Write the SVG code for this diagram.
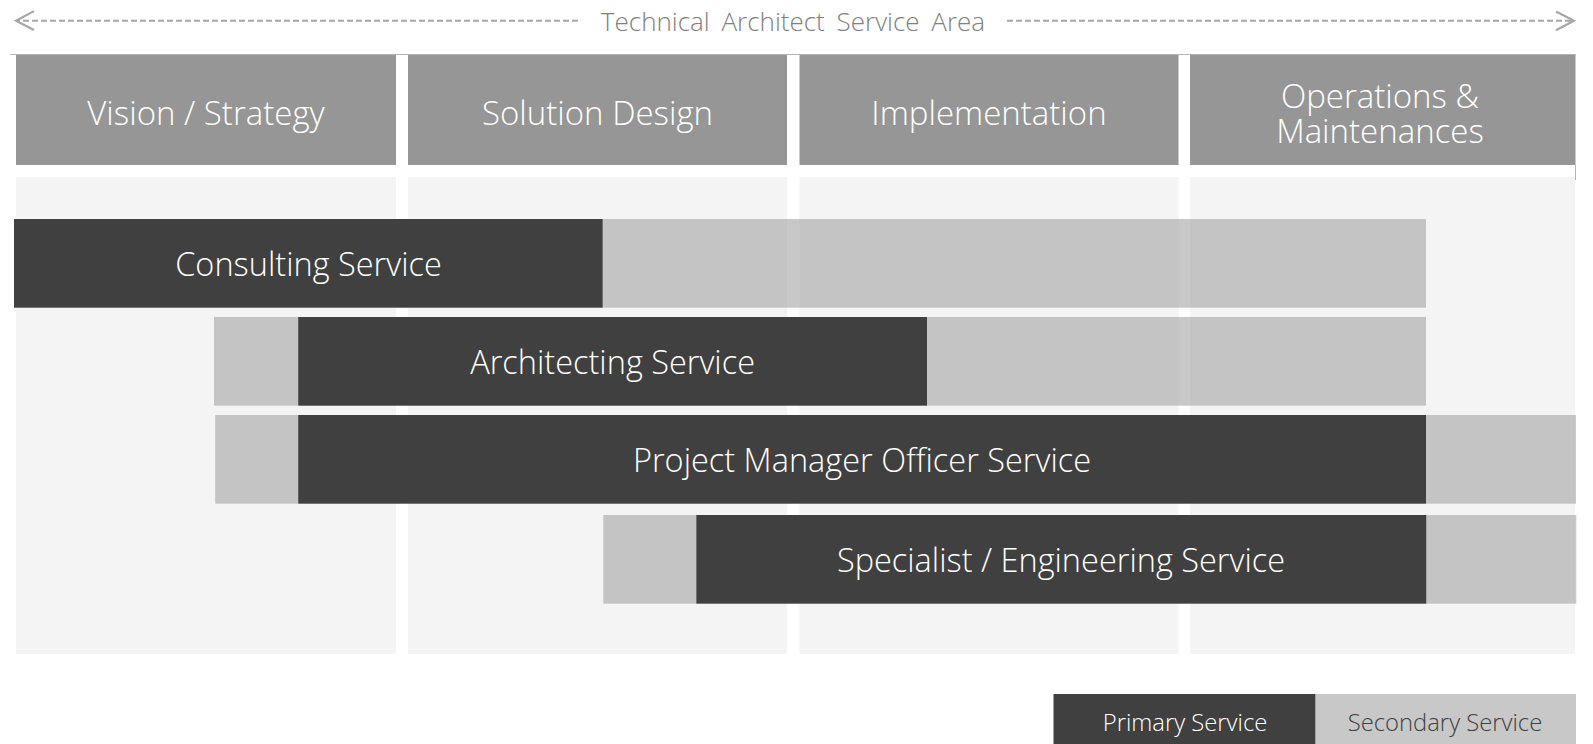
<svg xmlns="http://www.w3.org/2000/svg" width="1593" height="744" viewBox="0 0 1593 744">
  <defs>
    <style>
      text { font-family: "Open Sans", "Noto Sans", "Liberation Sans", sans-serif; font-weight: 300; text-anchor: middle; }
      .hdr { fill: #969696; }
      .pale { fill: #f4f4f4; }
      .dark { fill: #404040; }
      .light { fill: #a9a9a9; fill-opacity: 0.64; }
      .wt { fill: #ffffff; font-size: 32.5px; }
      .ht { fill: #ffffff; font-size: 33px; }
      .title { fill: #7f7f7f; font-size: 26px; word-spacing: 5px; }
      .leg { font-size: 23.8px; }
      .dash { fill: none; stroke: #a6a6a6; stroke-width: 2; stroke-dasharray: 6 3; }
      .thin { fill: none; stroke: #b4b4b4; stroke-width: 1; }
    </style>
    <marker id="chev" markerUnits="userSpaceOnUse" viewBox="-20 -11 22 22" refX="0" refY="0" markerWidth="22" markerHeight="22" orient="auto" overflow="visible">
      <path d="M-18,-9.3 L0,0 L-18,9.6" fill="none" stroke="#a6a6a6" stroke-width="2.2"/>
    </marker>
  </defs>

  <rect width="1593" height="744" fill="#ffffff"/>

  <g id="connectors">
    <path class="dash" d="M578,20.7 H16" marker-end="url(#chev)"/>
    <path class="dash" d="M1007,20.7 H1574" marker-end="url(#chev)"/>
  </g>

  <g id="title">
    <text class="title" x="793" y="31">Technical Architect Service Area</text>
  </g>

  <g id="frame">
    <path class="thin" d="M10,54.5 H1576"/>
    <path class="thin" d="M1575.5,165 V180"/>
  </g>

  <g id="columns">
    <rect class="pale" x="16" y="177" width="380" height="477"/>
    <rect class="pale" x="408" y="177" width="379" height="477"/>
    <rect class="pale" x="799.5" y="177" width="379" height="477"/>
    <rect class="pale" x="1190" y="177" width="385" height="477"/>
  </g>

  <g id="header-vision">
    <rect class="hdr" x="16" y="55" width="380" height="110"/>
    <text class="ht" x="206" y="124.5">Vision / Strategy</text>
  </g>
  <g id="header-solution">
    <rect class="hdr" x="408" y="55" width="379" height="110"/>
    <text class="ht" x="597.5" y="124.5">Solution Design</text>
  </g>
  <g id="header-implementation">
    <rect class="hdr" x="799.5" y="55" width="379" height="110"/>
    <text class="ht" x="989" y="124.5">Implementation</text>
  </g>
  <g id="header-operations">
    <rect class="hdr" x="1190" y="55" width="385.5" height="110"/>
    <text class="ht"><tspan x="1380" y="107.5">Operations &amp;</tspan><tspan x="1380" y="143.3">Maintenances</tspan></text>
  </g>

  <g id="consulting">
    <rect class="light" x="602.7" y="219" width="823.3" height="88.7"/>
    <rect class="dark" x="14" y="219" width="588.7" height="88.7"/>
    <text class="wt" x="308.5" y="276">Consulting Service</text>
  </g>

  <g id="architecting">
    <rect class="light" x="214" y="317" width="84.2" height="88.7"/>
    <rect class="light" x="927" y="317" width="499" height="88.7"/>
    <rect class="dark" x="298.2" y="317" width="628.8" height="88.7"/>
    <text class="wt" x="612.6" y="374">Architecting Service</text>
  </g>

  <g id="pmo">
    <rect class="light" x="215.2" y="415" width="83" height="88.7"/>
    <rect class="light" x="1426" y="415" width="150" height="88.7"/>
    <rect class="dark" x="298.2" y="415" width="1127.8" height="88.7"/>
    <text class="wt" x="862" y="471.7">Project Manager Officer Service</text>
  </g>

  <g id="specialist">
    <rect class="light" x="603.3" y="515" width="93" height="88.7"/>
    <rect class="light" x="1426.3" y="515" width="150" height="88.7"/>
    <rect class="dark" x="696.3" y="515" width="730" height="88.7"/>
    <text class="wt" x="1061" y="572.3">Specialist / Engineering Service</text>
  </g>

  <g id="legend-primary">
    <rect class="dark" x="1053.5" y="694" width="262" height="50"/>
    <text class="leg" x="1185" y="730.5" fill="#ffffff">Primary Service</text>
  </g>
  <g id="legend-secondary">
    <rect class="light" x="1315.5" y="694" width="260.5" height="50"/>
    <text class="leg" x="1445" y="730.5" fill="#404040">Secondary Service</text>
  </g>
</svg>
